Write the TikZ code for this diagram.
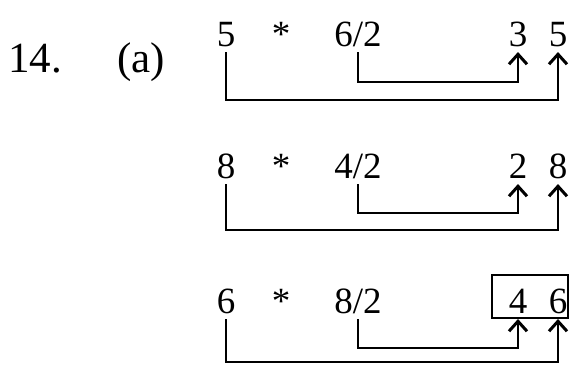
\documentclass[tikz,border=0pt]{standalone}
\usepackage{fontspec}
\setmainfont{Liberation Serif}
\usetikzlibrary{arrows.meta}

\begin{document}
\begin{tikzpicture}[x=0.5pt, y=-0.5pt, line width=1pt,
    >={Straight Barb[length=5pt,width=9pt,line width=1.5pt]},
    num/.style={anchor=base, inner sep=2.5pt, text depth=0pt,
                font=\fontsize{18.5}{22}\selectfont},
    tag/.style={anchor=base, inner sep=0pt, font=\fontsize{21.5}{26}\selectfont}]
    \useasboundingbox (0,0) rectangle (574,365);
    \node[tag] (qno) at (35,72) {14.};
    \node[tag] (part) at (141,72) {(a)};

    % first row
    \node[num] (lhs1) at (226,46) {5};
    \node[num] (op1) at (281,46) {*};
    \node[num] (rhs1) at (358,46) {6/2};
    \node[num] (val1) at (518,46) {3};
    \node[num] (cpy1) at (558,46) {5};
    \draw[->] (lhs1.south) -- (lhs1.south |- 0,100) -| (cpy1.south);
    \draw[->] (rhs1.south) -- (rhs1.south |- 0,82) -| (val1.south);

    % second row
    \node[num] (lhs2) at (226,178) {8};
    \node[num] (op2) at (281,178) {*};
    \node[num] (rhs2) at (358,178) {4/2};
    \node[num] (val2) at (518,178) {2};
    \node[num] (cpy2) at (558,178) {8};
    \draw[->] (lhs2.south) -- (lhs2.south |- 0,230) -| (cpy2.south);
    \draw[->] (rhs2.south) -- (rhs2.south |- 0,213) -| (val2.south);

    % third row, result boxed
    \node[num] (lhs3) at (226,313) {6};
    \node[num] (op3) at (281,313) {*};
    \node[num] (rhs3) at (358,313) {8/2};
    \node[num] (val3) at (518,313) {4};
    \node[num] (cpy3) at (558,313) {6};
    \node[draw, inner sep=0pt, minimum width=38pt, minimum height=21.5pt] (box) at (530,296.5) {};
    \draw[->] (lhs3.south) -- (lhs3.south |- 0,362) -| (cpy3 |- box.south);
    \draw[->] (rhs3.south) -- (rhs3.south |- 0,348) -| (val3 |- box.south);
\end{tikzpicture}
\end{document}
